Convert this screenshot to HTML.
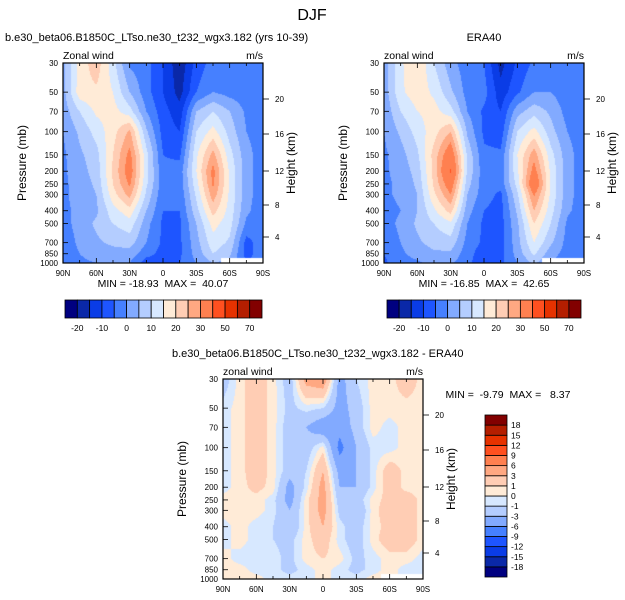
<!DOCTYPE html>
<html><head><meta charset="utf-8">
<style>
body{margin:0;background:#fff;width:625px;height:600px;overflow:hidden;position:relative;font-family:"Liberation Sans",sans-serif;}
canvas{position:absolute;}
svg{position:absolute;left:0;top:0;}
text{font-family:"Liberation Sans",sans-serif;fill:#000;white-space:pre;}
</style></head><body>
<canvas id="c1" width="200" height="200" style="left:63px;top:63px"></canvas>
<canvas id="c2" width="200" height="200" style="left:384px;top:63px"></canvas>
<canvas id="c3" width="200" height="200" style="left:223px;top:379px"></canvas>
<svg id="s" width="625" height="600"></svg>
<script>
const lats=['90N','75N','60N','45N','30N','15N','0','15S','30S','45S','60S','75S','90S'];
const levels=[30,50,70,100,150,200,250,300,400,500,700,850,1000];
const model=[
[3,17,23,12,-1,-3,-10,-19,-8,-3,-3,-3,-3],
[3,18,19,15,5,-3,-10,-17,-5,0,-2,-3,-3],
[2,10,16,17,12,0,-8,-13,5,10,5,-1,-3],
[0,6,12,18,26,6,-7,-10,10,17,8,0,-3],
[-1,4,8,20,32,12,-5,-6,14,27,12,2,-3],
[-1,3,7,21,34,12,-4,-3,15,32,14,2,-3],
[-1,2,6,20,31,11,-3,-3,13,31,14,2,-3],
[-1,2,5,18,27,9,-4,-4,11,28,14,2,-3],
[-1,1,4,13,18,5,-5,-5,8,22,13,1,-3],
[-2,2,6,10,13,2,-6,-6,5,17,12,-1,-3],
[-3,1,4,6,7,0,-6,-6,3,13,9,-7,-2],
[-3,0,2,3,3,-3,-7,-6,2,10,6,-7,-2],
[-4,-1,0,1,0,-8,-7,-5,0,5,3,-5,-2]];
const era=[
[2,14,20,10,2,-3,-5,-17,-9,-4,-3,-1,-3],
[2,14,18,14,6,-2,-3,-13,-6,0,0,-3,-3],
[1,10,15,17,12,0,-6,-10,3,8,4,-2,-3],
[0,6,12,18,25,4,-6,-8,10,17,7,0,-3],
[-1,3,9,22,36,9,-4,-4,15,28,12,2,-3],
[-1,2,7,22,41,9,-3,-3,14,33,14,2,-3],
[-1,1,6,21,35,7,-3,-3,12,38,14,2,-3],
[-1,1,5,19,30,5,-3,-6,9,31,14,2,-3],
[-2,0,5,14,22,2,-5,-7,6,25,12,1,-3],
[-2,1,6,10,14,0,-6,-7,4,20,10,-1,-4],
[-3,0,4,7,8,-2,-6,-7,3,15,6,-2,-5],
[-5,-1,2,4,4,-3,-8,-7,2,11,2,-2,-4],
[-6,-2,-1,2,1,-4,-8,-6,0,6,0,-3,-4]];
const diff=[
[-2,0.5,2,0.5,-2,4,5,-4,-1,0.5,0.5,2,0.5],
[-0.5,0.5,2,0.5,-1.5,-0.5,-1,-4,-2,0.5,0.5,0.5,0.5],
[-0.5,0.5,2,0.5,-2,-3,-5,-5,-2,0.5,-0.5,0.5,0.5],
[-0.5,0.5,2,0.5,-2,-2,0.5,-7,-3,-0.5,-0.5,0.5,0.5],
[-0.5,0.5,2,0.5,-2,-1,3,-4,-3,-0.5,2,0.5,0.5],
[-0.5,0.5,1.5,0.5,-4,-0.5,4,-3,-3,-0.5,2,0.5,0.5],
[0.5,0.5,0.5,-0.5,-4,0.5,4,-2,-2,0.5,1.5,2,0.5],
[0.5,0.5,0.5,-0.5,-3,0.5,4,-1.5,-3,0.5,2,2,0.5],
[-0.5,0.5,-0.5,-1,-3,0.5,3,-0.5,-2,0.5,1.5,2,0.5],
[-0.5,0.5,-0.5,-1,-1.5,0.5,2,-0.5,-2,0.5,2,2,0.5],
[0.5,-0.5,-0.5,-0.5,-1.5,0.5,1,0.5,-1.5,-0.5,0.5,0.5,-0.5],
[0.5,0.5,-0.5,-0.5,-1.5,-0.5,0.5,-0.5,-1.5,-0.5,0.5,-0.5,-0.5],
[0.5,0.5,0.5,-0.5,-0.5,-0.5,0.5,-0.5,-0.5,0.5,0.5,-0.5,-0.5]];
const bounds1=[-20,-15,-10,-5,0,5,10,15,20,25,30,40,50,60,70];
const labels1=['-20','-10','0','10','20','30','50','70'];
const bounds2=[-18,-15,-12,-9,-6,-3,-1,0,1,3,6,9,12,15,18];
const pTicks=[30,50,70,100,150,200,250,300,400,500,700,850,1000];
const hTicks=[20,16,12,8,4];
const hOffsets=[36,71,108,142,174];
const xLabels=['90N','60N','30N','0','30S','60S','90S'];
const colors=['#000080','#0a28a8','#0a3ce6','#1e55ff','#4680ff','#82aaff','#b4cdff','#d7e8ff','#ffebd7','#ffcdb4','#ffa882','#ff8050','#ff5020','#e63200','#b41e00','#820000'];

const LN0=Math.log(30),LNR=Math.log(1000/30);
const lnLev=levels.map(Math.log);
function yOfP(p){return 200*(Math.log(p)-LN0)/LNR;}
function draw(id,data,bounds){
  const ctx=document.getElementById(id).getContext('2d');
  const img=ctx.createImageData(200,200);
  const rgb=colors.map(c=>[parseInt(c.substr(1,2),16),parseInt(c.substr(3,2),16),parseInt(c.substr(5,2),16)]);
  for(let py=0;py<200;py++){
    const lp=LN0+(py+0.5)/200*LNR;
    let j=0;while(j<lnLev.length-2&&lp>lnLev[j+1])j++;
    const fy=Math.min(1,Math.max(0,(lp-lnLev[j])/(lnLev[j+1]-lnLev[j])));
    for(let px=0;px<200;px++){
      const fx0=(px+0.5)/200*(lats.length-1);
      const i=Math.min(lats.length-2,Math.floor(fx0));const fx=fx0-i;
      const v=(data[j][i]*(1-fx)+data[j][i+1]*fx)*(1-fy)+(data[j+1][i]*(1-fx)+data[j+1][i+1]*fx)*fy;
      let k=0;while(k<bounds.length&&v>=bounds[k])k++;
      const c=rgb[k],o=(py*200+px)*4;
      img.data[o]=c[0];img.data[o+1]=c[1];img.data[o+2]=c[2];img.data[o+3]=255;
    }
  }
  ctx.putImageData(img,0,0);
  ctx.fillStyle='#fff';ctx.fillRect(158,195,42,5);
}
draw('c1',model,bounds1);draw('c2',era,bounds1);draw('c3',diff,bounds2);

const S=document.getElementById('s');const NS='http://www.w3.org/2000/svg';
function el(tag,attrs,txt){const e=document.createElementNS(NS,tag);for(const k in attrs)e.setAttribute(k,attrs[k]);if(txt!==undefined)e.textContent=txt;S.appendChild(e);return e;}
function t(x,y,s,size,anchor,name,extra){const e=el('text',Object.assign({x:x,y:y,'font-size':size,'text-anchor':anchor||'start'},extra||{}),s);

return e;}

function panel(x0,y0,title,tx,ta,sub,minmax,mmx,mmy,pfx){
  const r=el('rect',{x:x0,y:y0,width:200,height:200,fill:'none',stroke:'#000','stroke-width':1.2});
  
  
  t(tx,y0-22,title,11,ta,pfx+'-title');
  t(x0,y0-4,sub,10.5,'start',pfx+'-left-label');
  t(x0+200,y0-4,'m/s',10.5,'end',pfx+'-units-label');
  for(let i=0;i<13;i++){const x=x0+i*200/12;const L=i%2==0?5:3;
    el('line',{x1:x,y1:y0+200,x2:x,y2:y0+200-L,stroke:'#000','stroke-width':0.8});
    el('line',{x1:x,y1:y0,x2:x,y2:y0+L,stroke:'#000','stroke-width':0.8});}
  xLabels.forEach((s,i)=>t(x0+i*200/6,y0+213,s,8,'middle',pfx+'-x-tick-label'));
  pTicks.forEach(p=>{const y=y0+yOfP(p);
    el('line',{x1:x0,y1:y,x2:x0+5,y2:y,stroke:'#000','stroke-width':0.8});
    t(x0-5,y+3,String(p),8,'end',pfx+'-y-tick-label');});
  hTicks.forEach((h,i)=>{const y=y0+hOffsets[i];
    el('line',{x1:x0+200,y1:y,x2:x0+206,y2:y,stroke:'#000','stroke-width':0.8});
    t(x0+212,y+3,String(h),8,'start',pfx+'-height-tick-label');});
  t(0,0,'Pressure (mb)',12,'middle',pfx+'-y-axis-title',{transform:`translate(${x0-37},${y0+100}) rotate(-90)`});
  t(0,0,'Height (km)',12,'middle',pfx+'-height-axis-title',{transform:`translate(${x0+232},${y0+100}) rotate(-90)`});
  t(mmx,mmy,minmax,10.5,'middle',pfx+'-min-max-label');
}
t(312,20,'DJF',16,'middle','main-title');
panel(63,63,'b.e30_beta06.B1850C_LTso.ne30_t232_wgx3.182 (yrs 10-39)',5,'start','Zonal wind','MIN = -18.93  MAX =  40.07',163,287,'model');
panel(384,63,'ERA40',484,'middle','zonal wind','MIN = -16.85  MAX =  42.65',484,287,'era40');
panel(223,379,'b.e30_beta06.B1850C_LTso.ne30_t232_wgx3.182 - ERA40',172,'start','zonal wind','MIN =  -9.79  MAX =   8.37',508,398,'diff');

function hbar(x0,pfx){const w=(x0==65?197:194)/16;
  colors.forEach((c,i)=>{const r=el('rect',{x:x0+i*w,y:300,width:w,height:18,fill:c,stroke:'#000','stroke-width':0.8});
    
    });
  labels1.forEach((s,k)=>t(x0+(2*k+1)*w,331,s,8.5,'middle',pfx+'-colorbar-label'));}
hbar(65,'top-left');hbar(387,'top-right');
const vh=162/16;
colors.forEach((c,i)=>{const r=el('rect',{x:485,y:577-(i+1)*vh,width:22,height:vh,fill:c,stroke:'#000','stroke-width':0.8});
  
  });
bounds2.forEach((b,i)=>t(511,577-(i+1)*vh+3,String(b),8.5,'start','diff-colorbar-label'));
</script>
</body></html>
